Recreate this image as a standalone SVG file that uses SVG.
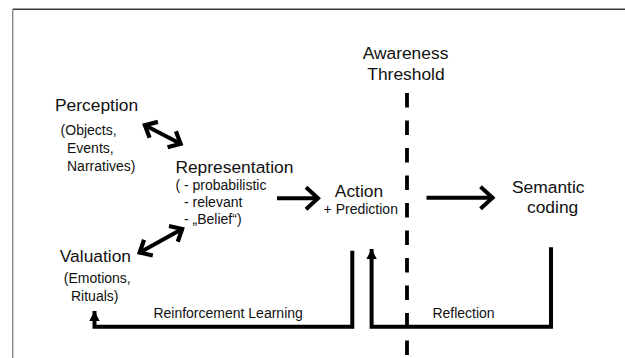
<svg xmlns="http://www.w3.org/2000/svg" width="625" height="358" viewBox="0 0 625 358">
  <style>
    text { font-family: "Liberation Sans", Arial, sans-serif; fill: #111; }
    .big { font-size: 17.4px; }
    .small { font-size: 14px; }
    .line { fill: none; stroke: #000; stroke-width: 4; }
    .dash { fill: none; stroke: #000; stroke-width: 3.8; stroke-dasharray: 14.5 13; }
  </style>
  <defs>
    <!-- open chevron head for the thick flow arrows -->
    <marker id="chev" markerUnits="userSpaceOnUse" viewBox="-18 -14 22 28" markerWidth="22" markerHeight="28" refX="0" refY="0" orient="auto-start-reverse">
      <path d="M-13,-11 L-1,0 L-13,11" fill="none" stroke="#000" stroke-width="4" stroke-linejoin="miter"/>
    </marker>
    <marker id="chevSmall" markerUnits="userSpaceOnUse" viewBox="-15 -13 19 26" markerWidth="19" markerHeight="26" refX="0" refY="0" orient="auto-start-reverse">
      <path d="M-11,-9 L-1,0 L-11,9" fill="none" stroke="#000" stroke-width="4.2" stroke-linejoin="miter"/>
    </marker>
    <!-- solid triangle head for the feedback loops -->
    <marker id="tri" markerUnits="userSpaceOnUse" viewBox="-11 -6 12 12" markerWidth="12" markerHeight="12" refX="0" refY="0" orient="auto">
      <path d="M-10,-5.2 L0,0 L-10,5.2 Z" fill="#000"/>
    </marker>
  </defs>

  <!-- frame -->
  <line x1="12.7" y1="9.3" x2="625" y2="9.3" stroke="#3a3a3a" stroke-width="1.4"/>
  <line x1="12.7" y1="9.3" x2="12.7" y2="358" stroke="#8a8a8a" stroke-width="1.4"/>

  <g id="threshold">
    <text class="big" x="405.5" y="59.3" text-anchor="middle">Awareness</text>
    <text class="big" x="406" y="80" text-anchor="middle">Threshold</text>
    <line class="dash" x1="407" y1="93" x2="407" y2="358"/>
  </g>

  <g id="perception">
    <text class="big" x="55" y="110.7">Perception</text>
    <text class="small" x="60.6" y="135">(Objects,</text>
    <text class="small" x="67" y="153">Events,</text>
    <text class="small" x="67" y="170.5">Narratives)</text>
  </g>

  <g id="representation">
    <text class="big" x="175.4" y="173.3">Representation</text>
    <text class="small" x="175.4" y="190">( - probabilistic</text>
    <text class="small" x="184" y="207.3">- relevant</text>
    <text class="small" x="184" y="224">- „Belief“)</text>
  </g>

  <g id="valuation">
    <text class="big" x="59.8" y="261.7">Valuation</text>
    <text class="small" x="63.8" y="283.3">(Emotions,</text>
    <text class="small" x="71" y="301">Rituals)</text>
  </g>

  <g id="action">
    <text class="big" x="334.8" y="196.7">Action</text>
    <text class="small" x="323.6" y="214.3">+ Prediction</text>
  </g>

  <g id="semantic">
    <text class="big" x="512" y="193.3">Semantic</text>
    <text class="big" x="527" y="213">coding</text>
  </g>

  <g id="connectors">
    <line class="line" x1="144" y1="124.8" x2="181.5" y2="144.3" marker-start="url(#chevSmall)" marker-end="url(#chevSmall)"/>
    <line class="line" x1="183" y1="228.5" x2="138.8" y2="253" marker-start="url(#chevSmall)" marker-end="url(#chevSmall)"/>
    <line class="line" x1="277" y1="198.3" x2="319" y2="198.3" marker-end="url(#chev)"/>
    <line class="line" x1="426.5" y1="197.7" x2="493.5" y2="197.7" marker-end="url(#chev)"/>
    <polyline class="line" points="352.3,250.7 352.3,326.8 94.5,326.8 94.5,311" marker-end="url(#tri)"/>
    <polyline class="line" points="551,247.3 551,326.8 371.6,326.8 371.6,249" marker-end="url(#tri)"/>
    <text class="small" x="153.4" y="318.3">Reinforcement Learning</text>
    <text class="small" x="432.4" y="318.3">Reflection</text>
  </g>
</svg>
